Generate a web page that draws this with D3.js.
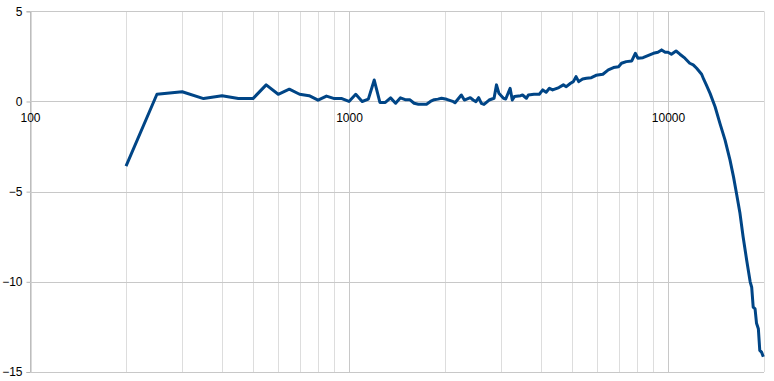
<!DOCTYPE html>
<html>
<head>
<meta charset="utf-8">
<script src="https://cdn.jsdelivr.net/npm/d3@7"></script>
<style>
  body { margin: 0; background: #fff; }
  text { font-family: "Liberation Sans", Arial, sans-serif; font-size: 12px; fill: #000; }
</style>
</head>
<body>
<svg id="chart" width="774" height="381"></svg>
<script>
const freqs = [200, 250, 300, 350, 400, 450, 500, 550, 600, 650, 700, 750, 800, 850, 900, 950,
  1000, 1050, 1100, 1150, 1200, 1250, 1300, 1350, 1400, 1450, 1500, 1550, 1600, 1650, 1700, 1750,
  1800, 1850, 1900, 1950, 2025, 2125, 2150, 2250, 2300, 2400, 2450, 2500, 2550, 2600, 2650, 2750,
  2850, 2900, 2950, 3050, 3100, 3200, 3250, 3300, 3450, 3500, 3600, 3650, 3800, 3950, 4050, 4150,
  4250, 4350, 4550, 4700, 4800, 4950, 5050, 5150, 5250, 5400, 5550, 5750, 5950, 6250, 6500, 6750,
  7000, 7150, 7400, 7700, 7900, 8050, 8350, 8650, 9000, 9300, 9550, 9800, 10000, 10250, 10600, 10900,
  11300, 11700, 12000, 12300, 12750, 12950, 13200, 13550, 14050, 14550, 15100, 15650, 16050, 16400,
  16800, 17200, 17650, 18100, 18300, 18500, 18750, 18950, 19200, 19400, 19650, 19900];
const levels = [-3.58, 0.40, 0.54, 0.16, 0.32, 0.16, 0.16, 0.92, 0.40, 0.68, 0.40, 0.32, 0.07, 0.30, 0.16, 0.16,
  0.0, 0.40, 0.0, 0.13, 1.19, -0.05, -0.05, 0.2, -0.1, 0.2, 0.1, 0.1, -0.1, -0.15, -0.15, -0.15,
  0.0, 0.1, 0.13, 0.18, 0.12, -0.01, -0.07, 0.36, 0.08, 0.21, 0.08, -0.01, 0.21, -0.10, -0.16, 0.08,
  0.18, 0.92, 0.46, 0.18, 0.14, 0.73, 0.08, 0.27, 0.32, 0.36, 0.18, 0.36, 0.40, 0.40, 0.64, 0.51,
  0.73, 0.64, 0.77, 0.92, 0.82, 1.01, 1.10, 1.38, 1.10, 1.25, 1.29, 1.32, 1.45, 1.51, 1.75, 1.88,
  1.93, 2.12, 2.21, 2.25, 2.67, 2.40, 2.43, 2.54, 2.67, 2.73, 2.86, 2.73, 2.73, 2.62, 2.80, 2.62,
  2.40, 2.12, 2.03, 1.84, 1.51, 1.22, 0.90, 0.45, -0.29, -1.21, -2.14, -3.25, -4.18, -5.10,
  -6.15, -7.5, -8.8, -10.0, -10.3, -11.4, -11.5, -12.3, -12.6, -13.8, -13.9, -14.15];

const xTickValues = [100, 1000, 10000];
const yTickValues = [5, 0, -5, -10, -15];

const plotLeft = 30;
const plotRight = 764;
const plotTop = 11.3;
const plotBottom = 372;

const svg = d3.select("#chart");
const x = d3.scaleLog().domain([100, 20000]).range([plotLeft, plotRight]);
const y = d3.scaleLinear().domain([-15, 5]).range([plotBottom, plotTop]);

// minor vertical grid, every 1..9 of each decade
const minor = [];
for (let d = 100; d <= 10000; d *= 10) {
  for (let k = 2; k <= 9; k++) {
    if (d * k <= 20000) minor.push(d * k);
  }
}

svg.append("g")
  .selectAll("line")
  .data(minor)
  .join("line")
  .attr("x1", (d) => Math.round(x(d)) + 0.5)
  .attr("x2", (d) => Math.round(x(d)) + 0.5)
  .attr("y1", plotTop)
  .attr("y2", plotBottom)
  .attr("stroke", "#dddddd");

svg.append("g")
  .selectAll("line")
  .data(xTickValues)
  .join("line")
  .attr("x1", (d) => Math.round(x(d)) + 0.5)
  .attr("x2", (d) => Math.round(x(d)) + 0.5)
  .attr("y1", plotTop)
  .attr("y2", plotBottom)
  .attr("stroke", "#c8c8c8");

// horizontal grid + y axis
const yAxis = d3.axisLeft(y).tickValues(yTickValues).tickSize(4).tickPadding(4).tickFormat(d3.format("d"));
const yg = svg.append("g").attr("transform", `translate(${plotLeft + 0.5},0)`).call(yAxis);
yg.select(".domain").attr("stroke", "#b3b3b3").attr("stroke-width", 1);
yg.selectAll(".tick line").attr("stroke", "#b3b3b3");
yg.selectAll(".tick text").attr("font-size", 12).attr("font-family", "Liberation Sans, Arial, sans-serif").attr("fill", "#000");

svg.append("g")
  .selectAll("line")
  .data(yTickValues)
  .join("line")
  .attr("x1", plotLeft)
  .attr("x2", plotRight)
  .attr("y1", (d) => Math.round(y(d)) + 0.5)
  .attr("y2", (d) => Math.round(y(d)) + 0.5)
  .attr("stroke", "#c8c8c8");

// x labels sit under the zero line
const xAxis = d3.axisBottom(x).tickValues(xTickValues).tickSize(0).tickPadding(12).tickFormat(d3.format("d"));
const xg = svg.append("g").attr("transform", `translate(0,${y(0)})`).call(xAxis);
xg.select(".domain").remove();
xg.selectAll(".tick text").attr("font-size", 12).attr("font-family", "Liberation Sans, Arial, sans-serif").attr("fill", "#000");

const data = freqs.map((f, i) => ({ f: f, v: levels[i] }));
const line = d3.line().x((d) => x(d.f)).y((d) => y(d.v));

svg.append("path")
  .datum(data)
  .attr("d", line)
  .attr("fill", "none")
  .attr("stroke", "#004586")
  .attr("stroke-width", 3)
  .attr("stroke-linejoin", "round");
</script>
</body>
</html>
